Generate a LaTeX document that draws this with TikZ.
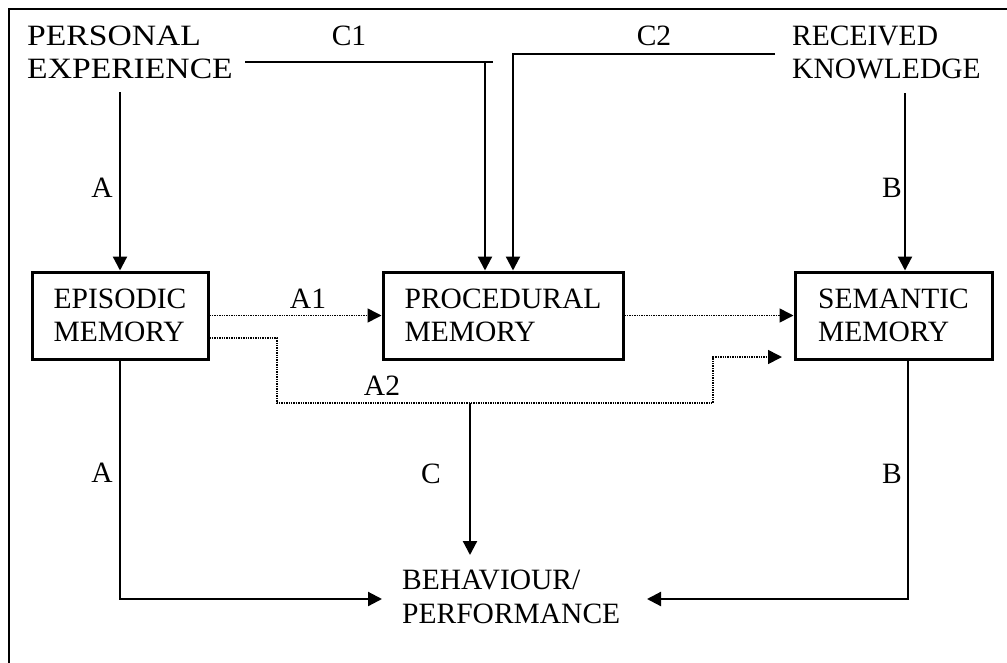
\documentclass[tikz,border=0pt]{standalone}
\usepackage{fontspec}
\setmainfont{Liberation Serif}
\usetikzlibrary{arrows.meta}
\begin{document}
\begin{tikzpicture}[x=1pt,y=-1pt,
  lbl/.style={inner sep=0pt,font=\fontsize{29.5}{33}\selectfont},
  mlbl/.style={lbl,align=left},
  memory/.style={draw,line width=3pt,minimum height=87pt,inner sep=0pt,align=left,font=\fontsize{29.5}{33}\selectfont},
  solidline/.style={line width=2.2pt},
  arr/.style={solidline,-{Triangle[length=14pt,width=14pt]}},
  dotline/.style={line width=1.6pt,dash pattern=on 1.4pt off 1pt},
  dotarr/.style={dotline,-{Triangle[length=14pt,width=14pt]}}]
\useasboundingbox (0,0) rectangle (1007,662);
% frame
\draw[line width=2.2pt] (9,670) -- (9,9) -- (1015,9);
% top labels
\node[mlbl,anchor=base west,xscale=1.14,transform shape] (pe) at (27,78) {PERSONAL\\EXPERIENCE};
\node[mlbl,anchor=base west] (rk) at (792,78) {RECEIVED\\KNOWLEDGE};
\node[lbl,anchor=base] (c1lbl) at (349,45) {C1};
\node[lbl,anchor=base] (c2lbl) at (654,45) {C2};
% boxes
\node[memory,minimum width=176pt] (epi) at (120,315.5) {EPISODIC\\MEMORY};
\node[memory,minimum width=240pt] (proc) at (503,315.5) {PROCEDURAL\\MEMORY};
\node[memory,minimum width=197pt] (sem) at (893.5,315.5) {SEMANTIC\\MEMORY};
% bottom
\node[lbl,align=left,font=\fontsize{29.5}{34}\selectfont,anchor=base west] (beh) at (402,623) {BEHAVIOUR/\\PERFORMANCE};
% coordinates
\coordinate (pes) at (120,92);
\coordinate (rks) at (905,93);
\coordinate (c1s) at (245,62);
\coordinate (c1e) at (493,62);
\coordinate (c1c) at (485,62);
\coordinate (c2s) at (775,54);
\coordinate (c2c) at (513,54);
\coordinate (a2a) at (277,338);
\coordinate (a2b) at (277,403);
\coordinate (a2c) at (713,403);
\coordinate (a2d) at (713,357);
\coordinate (a2e) at (782,357);
\coordinate (cj) at (470,403);
\coordinate (ce) at (470,555);
\coordinate (abot) at (120,599);
\coordinate (atip) at (382,599);
\coordinate (btop) at (908,359);
\coordinate (bbot) at (908,599);
\coordinate (btip) at (647,599);
% connectors
\draw[arr] (pes) -- (pes |- epi.north);
\draw[arr] (rks) -- (rks |- sem.north);
\draw[solidline] (c1s) -- (c1e);
\draw[arr] (c1c) -- (c1c |- proc.north);
\draw[arr] (c2s) -- (c2c) -- (c2c |- proc.north);
\draw[dotarr] (epi.east) -- (proc.west);
\draw[dotarr] (proc.east) -- (sem.west);
\draw[dotarr] (epi.east |- a2a) -- (a2a) -- (a2b) -- (a2c) -- (a2d) -- (a2e);
\draw[arr] (cj) -- (ce);
\draw[arr] (epi.south) -- (abot) -- (atip);
\draw[arr] (btop) -- (bbot) -- (btip);
% connector labels
\node[lbl,anchor=base east] (la1) at (113,197) {A};
\node[lbl,anchor=base east] (lb1) at (902,197) {B};
\node[lbl,anchor=base] (la1b) at (308,308) {A1};
\node[lbl,anchor=base] (la2) at (382,395) {A2};
\node[lbl,anchor=base east] (la2b) at (113,482) {A};
\node[lbl,anchor=base] (lc) at (431,483) {C};
\node[lbl,anchor=base east] (lb2) at (902,483) {B};
\end{tikzpicture}
\end{document}
